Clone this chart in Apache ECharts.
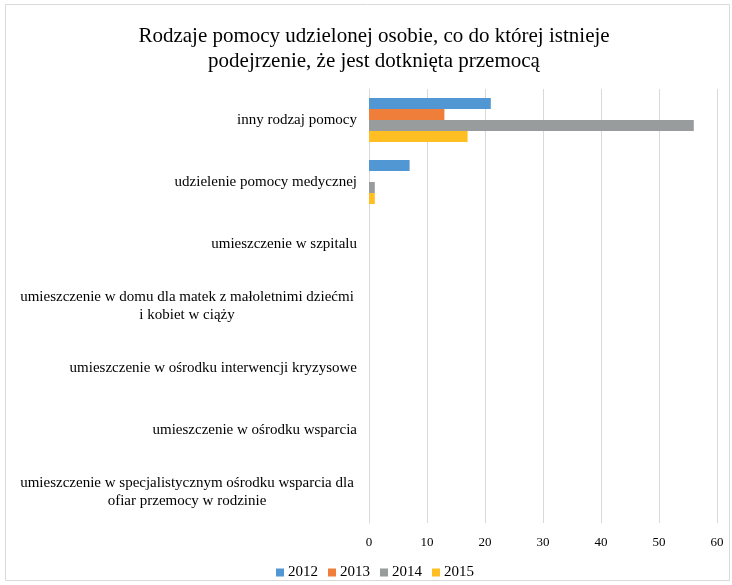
<!DOCTYPE html>
<html><head><meta charset="utf-8">
<script src="https://cdn.jsdelivr.net/npm/echarts@6/dist/echarts.min.js"></script>
<style>html,body{margin:0;padding:0;background:#fff}#c{width:732px;height:585px}</style>
</head><body><div id="c"></div>
<script>
const categories = [
  "inny rodzaj pomocy",
  "udzielenie pomocy medycznej",
  "umieszczenie w szpitalu",
  "umieszczenie w domu dla matek z małoletnimi dziećmi\ni kobiet w ciąży",
  "umieszczenie w ośrodku interwencji kryzysowe",
  "umieszczenie w ośrodku wsparcia",
  "umieszczenie w specjalistycznym ośrodku wsparcia dla\nofiar przemocy w rodzinie"
];
const years = ["2012", "2013", "2014", "2015"];
const v2012 = [21, 7, 0, 0, 0, 0, 0];
const v2013 = [13, 0, 0, 0, 0, 0, 0];
const v2014 = [56, 1, 0, 0, 0, 0, 0];
const v2015 = [17, 1, 0, 0, 0, 0, 0];
const xTicks = [0, 10, 20, 30, 40, 50, 60];
const titleLines = ["Rodzaje pomocy udzielonej osobie, co do której istnieje", "podejrzenie, że jest dotknięta przemocą"];

const colors = ["#5097D3", "#EE7E3A", "#999C9C", "#FFBE22"];
const font = "'Liberation Serif', 'Times New Roman', serif";
const chart = echarts.init(document.getElementById('c'));
const seriesData = [v2012, v2013, v2014, v2015];
chart.setOption({
  animation: false,
  textStyle: { fontFamily: font },
  title: {
    text: titleLines.map(l => '{t|' + l + '}').join('\n'),
    left: 'center', top: 19,
    textStyle: {
      fontFamily: font, fontSize: 21, fontWeight: 'normal', color: '#000', lineHeight: 25,
      rich: { t: { fontFamily: font, fontSize: 21, color: '#000', lineHeight: 25, padding: [0, 0, 0, 16] } }
    }
  },
  graphic: [{ type: 'rect', shape: { x: 5.5, y: 4.5, width: 724, height: 576 }, style: { fill: 'none', stroke: '#d9d9d9', lineWidth: 1 } }],
  legend: {
    data: years, top: 560, left: 271, itemWidth: 8, itemHeight: 8, itemGap: 10,
    icon: 'rect',
    textStyle: { fontFamily: font, fontSize: 15, color: '#000', padding: [0, 0, 0, -1] }
  },
  grid: { left: 369, right: 15, top: 89, bottom: 62, containLabel: false },
  xAxis: {
    type: 'value', min: 0, max: 60, interval: 10,
    axisLine: { show: false }, axisTick: { show: false },
    splitLine: { lineStyle: { color: '#d9d9d9' } },
    axisLabel: { fontFamily: font, fontSize: 13, color: '#000', margin: 13,
      formatter: v => xTicks.includes(v) ? String(v) : '' }
  },
  yAxis: {
    type: 'category', data: categories, inverse: true,
    axisLine: { show: true, lineStyle: { color: '#d9d9d9' } }, axisTick: { show: false },
    axisLabel: {
      fontFamily: font, fontSize: 15, color: '#000', margin: 12, align: 'right',
      formatter: function (v) {
        const parts = v.split('\n');
        if (parts.length === 1) return '{r|' + v + '}';
        return parts.map(p => '{c|' + p + '}').join('\n');
      },
      rich: {
        r: { fontFamily: font, fontSize: 15, color: '#000', lineHeight: 18 },
        c: { fontFamily: font, fontSize: 15, color: '#000', width: 340, align: 'center', lineHeight: 18 }
      }
    }
  },
  series: years.map((y, i) => ({
    name: y, type: 'bar', data: seriesData[i],
    barGap: '0%', barCategoryGap: '29%',
    itemStyle: { color: colors[i] }
  }))
});
</script></body></html>
